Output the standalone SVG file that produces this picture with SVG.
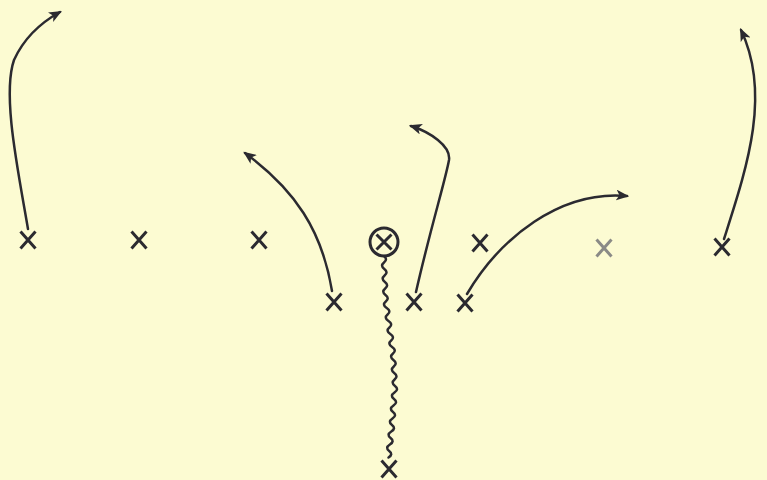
<svg xmlns="http://www.w3.org/2000/svg" width="767" height="480" viewBox="0 0 767 480">
<style>
.x{fill:none;stroke:#2b2a30;stroke-width:3;stroke-linecap:butt}
.g{stroke:#8a8a86}
.r{fill:none;stroke:#2b2a30;stroke-width:2.5;stroke-linecap:round}
</style>
<defs>
<marker id="ah" viewBox="0 0 12 10" refX="10" refY="5" markerWidth="13" markerHeight="11" markerUnits="userSpaceOnUse" orient="auto">
<path d="M0,0 L12,5 L0,10 L3,5 z" fill="#2b2a30"/>
</marker>
<path id="xm" d="M-7.5,-8.5 L7.5,8.5 M7.5,-8.5 L-7.5,8.5"/>
</defs>
<rect width="767" height="480" fill="#fcfbd2"/>
<g id="connectors">
<path class="r" marker-end="url(#ah)" d="M28,229 C18,170 2,95 14,60 C24,38 42,22 60,12"/>
<path class="r" marker-end="url(#ah)" d="M332,291 C322,230 295,190 245,153"/>
<path class="r" marker-end="url(#ah)" d="M416,292 C430,230 446,178 449,160 C451,146 430,132 411,126"/>
<path class="r" marker-end="url(#ah)" d="M467,294 C500,238 560,190 627,196"/>
<path class="r" marker-end="url(#ah)" d="M724,239 C746,170 772,95 741,30"/>
<path class="r" stroke-width="2.2" d="M384,256 q4,3.25 0,6.5 t0.3,6.5 t0.3,6.5 t0.3,6.5 t0.3,6.5 t0.3,6.5 t0.3,6.5 t0.9,6.5 t0.9,6.5 t0.9,6.5 t0.9,6.5 t0.9,6.5 t0.9,6.5 t0.9,6.5 t0.9,6.5 t0.4,6.5 t0.4,6.5 t0.4,6.5 t0.4,6.5 t0.4,6.5 t-0.5,6.5 t-0.5,6.5 t-0.5,6.5 t-0.5,6.5 t-0.5,6.5 t-0.5,6.5 t-0.7,6.5 t-0.7,6.5 t-0.7,6.5 t-0.7,6.5 t-0.7,6.5"/>
</g>
<g id="n1" transform="translate(28,240)"><use href="#xm" class="x"/></g>
<g id="n2" transform="translate(139,240)"><use href="#xm" class="x"/></g>
<g id="n3" transform="translate(259,240)"><use href="#xm" class="x"/></g>
<g id="n4" transform="translate(384,242)"><circle r="14" class="x"/><path d="M-7.5,-7.5 L7.5,7.5 M7.5,-7.5 L-7.5,7.5" class="x" stroke-width="2.6"/></g>
<g id="n5" transform="translate(480,243)"><use href="#xm" class="x"/></g>
<g id="n6" transform="translate(604,248)"><use href="#xm" class="x g"/></g>
<g id="n7" transform="translate(722,247)"><use href="#xm" class="x"/></g>
<g id="n8" transform="translate(334,302)"><use href="#xm" class="x"/></g>
<g id="n9" transform="translate(414,302)"><use href="#xm" class="x"/></g>
<g id="n10" transform="translate(465,303)"><use href="#xm" class="x"/></g>
<g id="n11" transform="translate(389,469)"><use href="#xm" class="x"/></g>
</svg>
